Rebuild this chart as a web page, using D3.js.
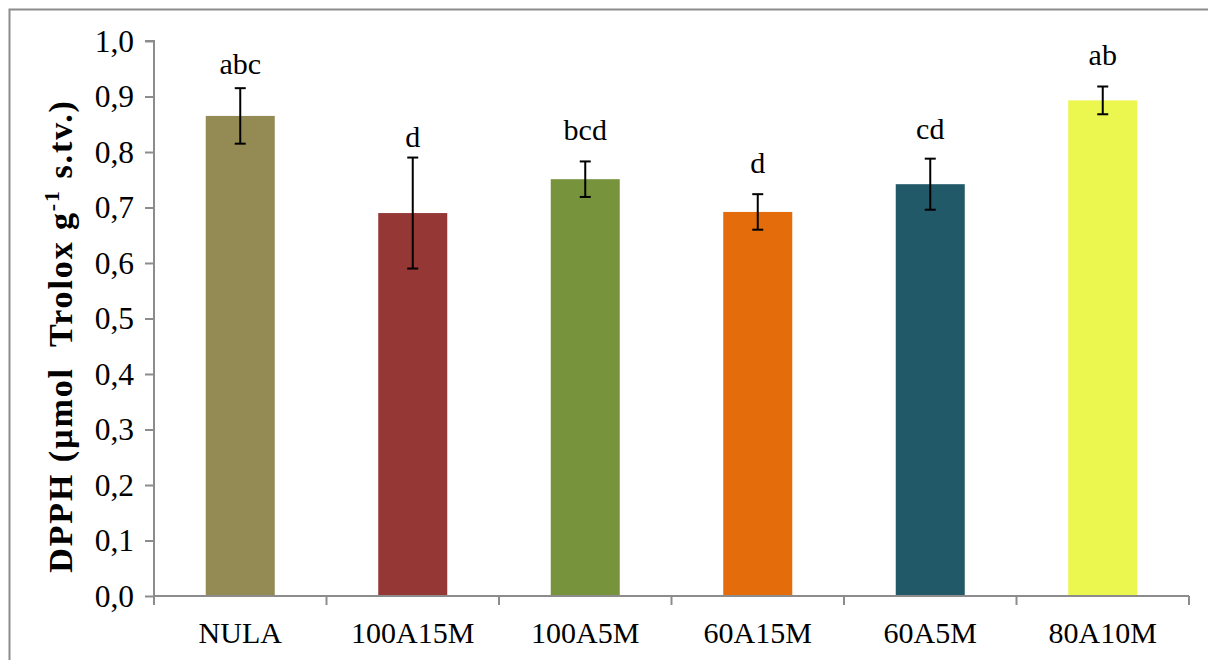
<!DOCTYPE html>
<html>
<head>
<meta charset="utf-8">
<script src="https://cdn.jsdelivr.net/npm/d3@7"></script>
<style>
  html, body { margin: 0; padding: 0; background: #fff; }
  svg { display: block; }
</style>
</head>
<body>
<svg id="chart" width="1208" height="660"></svg>
<script>
const categories = ["NULA", "100A15M", "100A5M", "60A15M", "60A5M", "80A10M"];
const values     = [0.865, 0.690, 0.751, 0.692, 0.742, 0.893];
const errors     = [0.050, 0.100, 0.032, 0.032, 0.046, 0.025];
const letters    = ["abc", "d", "bcd", "d", "cd", "ab"];
const letterAt   = [0.941, 0.809, 0.822, 0.763, 0.824, 0.957];
const colors     = ["#948A54", "#953735", "#77933C", "#E46C0A", "#215968", "#EBF64E"];
const yTicks     = [0, 0.1, 0.2, 0.3, 0.4, 0.5, 0.6, 0.7, 0.8, 0.9, 1.0];

const svg = d3.select("#chart");
const W = 1208, H = 660;
const m = { left: 154, right: 1189, top: 41, bottom: 596 };
const axisColor = "#8c8c8c";
const font = "Liberation Serif, Times New Roman, serif";

// outer frame
svg.append("rect")
  .attr("x", 9.5).attr("y", 9.5)
  .attr("width", W + 20).attr("height", H + 20)
  .attr("fill", "none").attr("stroke", axisColor).attr("stroke-width", 2);

const x = d3.scaleBand().domain(categories).range([m.left, m.right]).paddingInner(0.6).paddingOuter(0.3);
const y = d3.scaleLinear().domain([0, 1]).range([m.bottom, m.top]);

// bars
svg.append("g").selectAll("rect").data(categories).join("rect")
  .attr("x", d => x(d))
  .attr("width", x.bandwidth())
  .attr("y", (d, i) => y(values[i]))
  .attr("height", (d, i) => y(0) - y(values[i]))
  .attr("fill", (d, i) => colors[i]);

// y axis
const yAxis = d3.axisLeft(y).tickValues(yTicks).tickSize(9).tickPadding(11)
  .tickFormat(d => d3.format(".1f")(d).replace(".", ","));
const gy = svg.append("g").attr("transform", `translate(${m.left},0)`).call(yAxis);
gy.select(".domain").attr("stroke", axisColor).attr("stroke-width", 2).attr("d", `M-9,${m.top}H0V${m.bottom}`);
gy.selectAll(".tick line").attr("stroke", axisColor).attr("stroke-width", 2);
gy.selectAll(".tick text").attr("font-family", font).attr("font-size", 31.5).attr("fill", "#000");

// x axis with boundary ticks
const gx = svg.append("g").attr("transform", `translate(0,${m.bottom})`);
gx.append("line").attr("x1", m.left).attr("x2", m.right).attr("y1", 0).attr("y2", 0)
  .attr("stroke", axisColor).attr("stroke-width", 2);
const bounds = d3.range(categories.length + 1).map(i => m.left + i * (m.right - m.left) / categories.length);
gx.selectAll("line.tk").data(bounds).join("line").attr("class", "tk")
  .attr("x1", d => d).attr("x2", d => d).attr("y1", 0).attr("y2", 9)
  .attr("stroke", axisColor).attr("stroke-width", 2);
gx.selectAll("text").data(categories).join("text")
  .attr("x", d => x(d) + x.bandwidth() / 2)
  .attr("y", 47)
  .attr("text-anchor", "middle")
  .attr("font-family", font).attr("font-size", 30).attr("fill", "#000")
  .text(d => d);

// error bars
const eg = svg.append("g").attr("stroke", "#000").attr("stroke-width", 2);
categories.forEach((c, i) => {
  const cx = x(c) + x.bandwidth() / 2;
  const y1 = y(values[i] + errors[i]), y2 = y(values[i] - errors[i]);
  eg.append("line").attr("x1", cx).attr("x2", cx).attr("y1", y1).attr("y2", y2);
  eg.append("line").attr("x1", cx - 5.5).attr("x2", cx + 5.5).attr("y1", y1).attr("y2", y1);
  eg.append("line").attr("x1", cx - 5.5).attr("x2", cx + 5.5).attr("y1", y2).attr("y2", y2);
});

// significance letters
svg.append("g").selectAll("text").data(categories).join("text")
  .attr("x", d => x(d) + x.bandwidth() / 2)
  .attr("y", (d, i) => y(letterAt[i]))
  .attr("text-anchor", "middle")
  .attr("font-family", font).attr("font-size", 30).attr("fill", "#000")
  .text((d, i) => letters[i]);

// y axis title
const t = svg.append("text")
  .attr("transform", `translate(72,336) rotate(-90)`)
  .attr("text-anchor", "middle")
  .attr("font-family", font).attr("font-size", 34).attr("font-weight", "bold").attr("fill", "#000")
  .attr("letter-spacing", 1.9)
  .attr("xml:space", "preserve").style("white-space", "pre");
t.append("tspan").text("DPPH (µmol  Trolox g");
t.append("tspan").attr("font-size", 22).attr("dy", -13).text("-1");
t.append("tspan").attr("dy", 13).text(" s.tv.)");
</script>
</body>
</html>
